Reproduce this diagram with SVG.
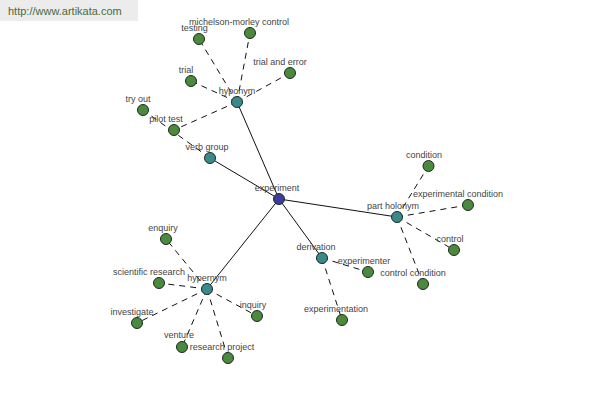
<svg xmlns="http://www.w3.org/2000/svg" width="600" height="400" viewBox="0 0 600 400">
<style>
.bg{fill:#ffffff}
.solid{stroke:#111;stroke-width:1;fill:none}
.dash{stroke:#111;stroke-width:1;fill:none;stroke-dasharray:6 5}
.c{stroke:#1e2a24;stroke-width:1}
.center{fill:#3c3c9e}
.hub{fill:#3a8a8c}
.leaf{fill:#4b8a3c}
text{font-family:"Liberation Sans",Arial,sans-serif;font-size:9px;fill:#444;text-anchor:middle}
.url{font-size:11px;fill:#4a6a40;text-anchor:start}
</style>
<rect class="bg" width="600" height="400"/>
<rect x="0" y="0" width="138" height="21" fill="#ececec"/>
<text class="url" x="8" y="15">http://www.artikata.com</text>
<g id="connectors">
<line class="solid" x1="279" y1="199" x2="237" y2="102"/>
<line class="solid" x1="279" y1="199" x2="210" y2="158"/>
<line class="solid" x1="279" y1="199" x2="397" y2="217"/>
<line class="solid" x1="279" y1="199" x2="322" y2="258"/>
<line class="solid" x1="279" y1="199" x2="207" y2="289"/>
<line class="dash" x1="237" y1="102" x2="199" y2="39"/>
<line class="dash" x1="237" y1="102" x2="250" y2="33"/>
<line class="dash" x1="237" y1="102" x2="191" y2="81"/>
<line class="dash" x1="237" y1="102" x2="290" y2="73"/>
<line class="dash" x1="237" y1="102" x2="174" y2="130"/>
<line class="dash" x1="210" y1="158" x2="143" y2="110"/>
<line class="dash" x1="397" y1="217" x2="428.5" y2="166"/>
<line class="dash" x1="397" y1="217" x2="468" y2="205"/>
<line class="dash" x1="397" y1="217" x2="454" y2="250"/>
<line class="dash" x1="397" y1="217" x2="423" y2="284"/>
<line class="dash" x1="322" y1="258" x2="368" y2="272"/>
<line class="dash" x1="322" y1="258" x2="342" y2="320"/>
<line class="dash" x1="207" y1="289" x2="166" y2="239"/>
<line class="dash" x1="207" y1="289" x2="159" y2="283"/>
<line class="dash" x1="207" y1="289" x2="137" y2="323"/>
<line class="dash" x1="207" y1="289" x2="257" y2="316"/>
<line class="dash" x1="207" y1="289" x2="182" y2="347"/>
<line class="dash" x1="207" y1="289" x2="228" y2="358"/>
</g>
<g id="experiment"><circle class="c center" cx="279" cy="199" r="5.5"/><text x="277" y="190.5">experiment</text></g>
<g id="hyponym"><circle class="c hub" cx="237" cy="102" r="5.5"/><text x="237" y="93.5">hyponym</text></g>
<g id="verb-group"><circle class="c hub" cx="210" cy="158" r="5.5"/><text x="207" y="149.5">verb group</text></g>
<g id="part-holonym"><circle class="c hub" cx="397" cy="217" r="5.5"/><text x="393" y="208.5">part holonym</text></g>
<g id="derivation"><circle class="c hub" cx="322" cy="258" r="5.5"/><text x="316" y="249.5">derivation</text></g>
<g id="hypernym"><circle class="c hub" cx="207" cy="289" r="5.5"/><text x="207" y="281">hypernym</text></g>
<g id="testing"><circle class="c leaf" cx="199" cy="39" r="5.5"/><text x="194.5" y="31">testing</text></g>
<g id="michelson-morley-control"><circle class="c leaf" cx="250" cy="33" r="5.5"/><text x="239" y="25">michelson-morley control</text></g>
<g id="trial"><circle class="c leaf" cx="191" cy="81" r="5.5"/><text x="186" y="73">trial</text></g>
<g id="trial-and-error"><circle class="c leaf" cx="290" cy="73" r="5.5"/><text x="280" y="64.5">trial and error</text></g>
<g id="try-out"><circle class="c leaf" cx="143" cy="110" r="5.5"/><text x="138" y="102">try out</text></g>
<g id="pilot-test"><circle class="c leaf" cx="174" cy="130" r="5.5"/><text x="166" y="122">pilot test</text></g>
<g id="condition"><circle class="c leaf" cx="428.5" cy="166" r="5.5"/><text x="424" y="157.5">condition</text></g>
<g id="experimental-condition"><circle class="c leaf" cx="468" cy="205" r="5.5"/><text x="458" y="196.5">experimental condition</text></g>
<g id="control"><circle class="c leaf" cx="454" cy="250" r="5.5"/><text x="450" y="241.5">control</text></g>
<g id="control-condition"><circle class="c leaf" cx="423" cy="284" r="5.5"/><text x="413" y="275.5">control condition</text></g>
<g id="experimenter"><circle class="c leaf" cx="368" cy="272" r="5.5"/><text x="364" y="263.5">experimenter</text></g>
<g id="experimentation"><circle class="c leaf" cx="342" cy="320" r="5.5"/><text x="336" y="311.5">experimentation</text></g>
<g id="enquiry"><circle class="c leaf" cx="166" cy="239" r="5.5"/><text x="163" y="231">enquiry</text></g>
<g id="scientific-research"><circle class="c leaf" cx="159" cy="283" r="5.5"/><text x="149" y="274.5">scientific research</text></g>
<g id="investigate"><circle class="c leaf" cx="137" cy="323" r="5.5"/><text x="132" y="314.5">investigate</text></g>
<g id="inquiry"><circle class="c leaf" cx="257" cy="316" r="5.5"/><text x="253" y="308">inquiry</text></g>
<g id="venture"><circle class="c leaf" cx="182" cy="347" r="5.5"/><text x="179" y="338">venture</text></g>
<g id="research-project"><circle class="c leaf" cx="228" cy="358" r="5.5"/><text x="222" y="349.5">research project</text></g>
</svg>
